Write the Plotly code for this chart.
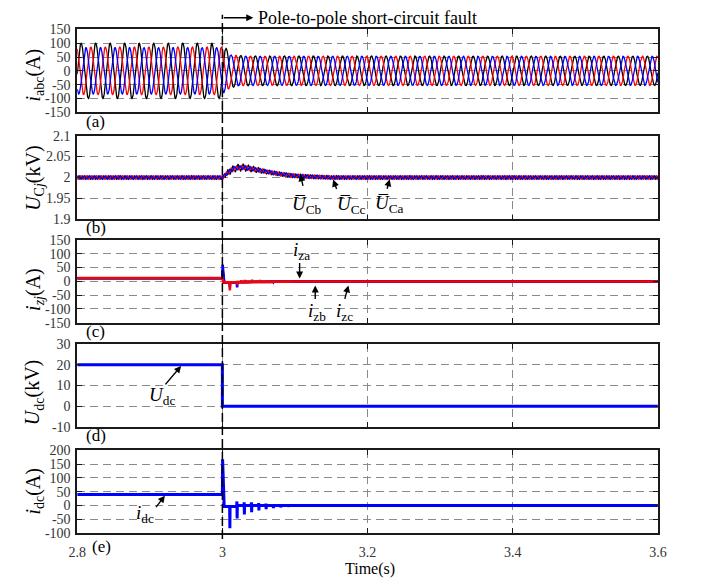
import numpy as np
import plotly.graph_objects as go

FIG_W, FIG_H = 702, 586
FONT = "Liberation Serif, Times New Roman, serif"

# ---------------- time axis ----------------
t_start, t_end, t_fault = 2.8, 3.6, 3.0
x_ticks = [2.8, 3.0, 3.2, 3.4, 3.6]
x_tick_text = ["2.8", "3", "3.2", "3.4", "3.6"]

# ---------------- (a) AC phase currents (A) ----------------
f_grid = 50.0            # Hz
peak_time_a = 2.8054     # first positive peak of phase a (s)
iabc_env_t = [2.8, 3.0, 3.004, 3.012, 3.03, 3.6]
ia_env = [100, 100, 85, 60, 54, 53]
ib_env = [84, 84, 74, 57, 53, 53]
ic_env = [86, 86, 76, 58, 53, 53]

# ---------------- (b) sub-module capacitor voltages (kV) ----------------
f_ripple = 140.0
uc_mean_t = [2.8, 3.0, 3.005, 3.012, 3.02, 3.03, 3.045, 3.06, 3.08, 3.10, 3.12, 3.15, 3.6]
uc_mean = [2.0, 2.0, 2.008, 2.018, 2.023, 2.024, 2.019, 2.014, 2.008, 2.004, 2.002, 2.0, 2.0]
uc_rip_t = [2.8, 3.0, 3.01, 3.03, 3.06, 3.10, 3.15, 3.6]
uc_rip_a = [0.0042, 0.0042, 0.008, 0.008, 0.005, 0.0045, 0.0042, 0.0042]
uc_rip_bc = [0.0045, 0.0045, 0.005, 0.005, 0.0045, 0.0045, 0.0045, 0.0045]

# ---------------- (c) circulating currents (A) ----------------
iza_base_t = [2.8, 3.0, 3.0003, 3.0025, 3.03, 3.1, 3.6]
iza_base = [11, 11, 40, -4, -2, -1, -1]
iza_spikes = [[(3.0103, -14)], [(3.0203, -10)], [(3.0303, -5)]]

izb_base_t = [2.8, 3.0, 3.0003, 3.0025, 3.03, 3.1, 3.6]
izb_base = [11, 11, 60, -5, -3, -1, -1]
izb_spikes = [[(3.0103, -22)], [(3.0203, -22)], [(3.0303, -7)], [(3.0403, -6)],
              [(3.0503, -5)], [(3.0603, -4)], [(3.0703, -3)]]

izc_base_t = [2.8, 3.0, 3.0015, 3.03, 3.1, 3.6]
izc_base = [12, 12, -4, -3, -1, -1]
izc_spikes = [[(3.0103, -33)], [(3.0203, -14)], [(3.026, 4)], [(3.031, 5)],
              [(3.036, -3)], [(3.041, 6)], [(3.047, 3)], [(3.052, 5)],
              [(3.058, -2)], [(3.063, 4)], [(3.070, 3)], [(3.076, -2)],
              [(3.082, 3)], [(3.090, 2)], [(3.100, 2)]]

# ---------------- (d) DC voltage (kV) ----------------
udc_t = [2.8, 3.0, 3.0, 3.6]
udc = [20, 20, 0, 0]

# ---------------- (e) DC current (A) ----------------
idc_base_t = [2.8, 3.0, 3.0003, 3.0025, 3.018, 3.022, 3.6]
idc_base = [40, 40, 168, -3, -3, 0, 0]
idc_spikes = [[(3.0103, -82)],
              [(3.0200, 15), (3.0203, -47)],
              [(3.0300, 12), (3.0303, -32)],
              [(3.0400, 12), (3.0403, -24)],
              [(3.0500, 9), (3.0503, -18)],
              [(3.0600, 7), (3.0603, -13)],
              [(3.0700, 5), (3.0703, -9)],
              [(3.0800, 4), (3.0803, -7)],
              [(3.0900, 3), (3.0903, -5)],
              [(3.1000, 3), (3.1003, -4)],
              [(3.1100, 2), (3.1103, -3)],
              [(3.1200, 2), (3.1203, -3)]]

BLACK, RED, BLUE = "#000000", "#ff0000", "#0000ff"
GRID = "#8a8a8a"


def with_spikes(base_t, base_v, groups, w=0.0003):
    """Baseline polyline with narrow spike groups inserted."""
    pts = list(zip(base_t, base_v))
    for g in groups:
        t0, t1 = g[0][0] - w, g[-1][0] + w
        pts.append((t0, float(np.interp(t0, base_t, base_v))))
        pts.extend(g)
        pts.append((t1, float(np.interp(t1, base_t, base_v))))
    pts.sort(key=lambda p: p[0])
    return [p[0] for p in pts], [p[1] for p in pts]


t = np.linspace(t_start, t_end, 8001)
wt = 2 * np.pi * f_grid * (t - peak_time_a)
ia = np.interp(t, iabc_env_t, ia_env) * np.cos(wt)
ib = np.interp(t, iabc_env_t, ib_env) * np.cos(wt - 2 * np.pi / 3)
ic = np.interp(t, iabc_env_t, ic_env) * np.cos(wt - 4 * np.pi / 3)

wr = 2 * np.pi * f_ripple * (t - t_start)
um = np.interp(t, uc_mean_t, uc_mean)
uca = um + np.interp(t, uc_rip_t, uc_rip_a) * np.cos(wr)
ucb = um + np.interp(t, uc_rip_t, uc_rip_bc) * np.cos(wr - 2 * np.pi / 3)
ucc = um + np.interp(t, uc_rip_t, uc_rip_bc) * np.cos(wr + 2 * np.pi / 3)

iza_t, iza = with_spikes(iza_base_t, iza_base, iza_spikes)
izb_t, izb = with_spikes(izb_base_t, izb_base, izb_spikes)
izc_t, izc = with_spikes(izc_base_t, izc_base, izc_spikes)
idc_t, idc = with_spikes(idc_base_t, idc_base, idc_spikes)

fig = go.Figure()


def line(x, y, color, width, axis):
    fig.add_trace(go.Scatter(x=x, y=y, mode="lines", showlegend=False,
                             line=dict(color=color, width=width),
                             xaxis="x" + axis, yaxis="y" + axis,
                             hoverinfo="skip"))


line(t, ia, BLACK, 1.3, "1")
line(t, ic, RED, 1.3, "1")
line(t, ib, BLUE, 1.3, "1")
line(t, uca, BLACK, 1.3, "2")
line(t, ucc, RED, 1.3, "2")
line(t, ucb, BLUE, 1.3, "2")
line(iza_t, iza, BLACK, 2.6, "3")
line(izb_t, izb, BLUE, 2.6, "3")
line(izc_t, izc, RED, 2.6, "3")
line(udc_t, udc, BLUE, 3, "4")
line(idc_t, idc, BLUE, 3, "5")

# panel geometry in pixels (top, bottom)
X_L, X_R = 70, 666
panels = [(23, 108), (132, 218), (239, 324), (346, 431), (455, 540)]
y_ranges = [(-150, 150), (1.9, 2.1), (-150, 150), (-10, 30), (-100, 200)]
y_ticks = [[-150, -100, -50, 0, 50, 100, 150],
           [1.9, 1.95, 2.0, 2.05, 2.1],
           [-150, -100, -50, 0, 50, 100, 150],
           [-10, 0, 10, 20, 30],
           [-100, -50, 0, 50, 100, 150, 200]]
y_tick_text = [[str(v) for v in y_ticks[0]],
               ["1.9", "1.95", "2", "2.05", "2.1"],
               [str(v) for v in y_ticks[2]],
               [str(v) for v in y_ticks[3]],
               [str(v) for v in y_ticks[4]]]

tick_font = dict(family=FONT, size=14, color="#333333")
layout = {}
for i, ((top, bot), yr, yt, ytt) in enumerate(zip(panels, y_ranges, y_ticks, y_tick_text), start=1):
    common = dict(showline=True, linecolor="#1a1a1a", linewidth=1.6, mirror="ticks",
                  ticks="inside", ticklen=5, tickwidth=1.2, tickcolor="#1a1a1a",
                  showgrid=True, gridcolor=GRID, gridwidth=1, griddash="8px,5px",
                  zeroline=False, tickfont=tick_font)
    layout["xaxis%d" % i] = dict(common, domain=[X_L / FIG_W, X_R / FIG_W],
                                 anchor="y%d" % i, range=[t_start, t_end],
                                 tickvals=x_ticks, ticktext=x_tick_text,
                                 showticklabels=(i == 5), ticklabelstandoff=5)
    layout["yaxis%d" % i] = dict(common, domain=[1 - bot / FIG_H, 1 - top / FIG_H],
                                 anchor="x%d" % i, range=list(yr),
                                 tickvals=yt, ticktext=ytt, ticklabelstandoff=2)

fig.update_layout(**layout)


def P(xp, yp):
    return xp / FIG_W, 1 - yp / FIG_H


ann = []


def text_at(xp, yp, txt, size=19, angle=0, xanchor="center", color="#000000"):
    x, y = P(xp, yp)
    ann.append(dict(x=x, y=y, xref="paper", yref="paper", text=txt, showarrow=False,
                    textangle=angle, xanchor=xanchor, yanchor="middle",
                    font=dict(family=FONT, size=size, color=color)))


def arrow_to(axis, x, y, dx, dy):
    ann.append(dict(x=x, y=y, xref="x" + axis, yref="y" + axis, text="",
                    showarrow=True, ax=dx, ay=dy, axref="pixel", ayref="pixel",
                    arrowhead=2, arrowsize=1, arrowwidth=1.4, arrowcolor="#000000"))


# axis titles
text_at(26, 70, "<i>i</i><sub>abc</sub>(A)", size=20, angle=-90)
text_at(26, 176, "<i>U</i><sub>C<i>j</i></sub>(kV)", size=20, angle=-90)
text_at(26, 290, "<i>i</i><sub><i>zj</i></sub>(A)", size=20, angle=-90)
text_at(26, 396, "<i>U</i><sub>dc</sub>(kV)", size=20, angle=-90)
text_at(26, 497, "<i>i</i><sub>dc</sub>(A)", size=20, angle=-90)

# panel tags
for lab, yp in zip(["(a)", "(b)", "(c)", "(d)"], [117, 226, 333, 440]):
    text_at(89, yp, lab, size=17)
text_at(95, 554, "(e)", size=17)
text_at(371, 577, "Time(s)", size=16)

# fault marker
text_at(253, 11, "Pole-to-pole short-circuit fault", size=18, xanchor="left")
ann.append(dict(x=3.0425, y=1 - 11 / FIG_H, xref="x1", yref="paper", text="",
                showarrow=True, ax=t_fault, ay=0, axref="x1", ayref="pixel",
                arrowhead=2, arrowsize=1, arrowwidth=1.4, arrowcolor="#000000"))

# (b) labels
arrow_to("2", 3.1074, 2.0077, 3, 13)
text_at(306, 203, "<i>U\u0305</i><sub>Cb</sub>")
arrow_to("2", 3.1526, 1.995, 4, 11)
text_at(351, 203, "<i>U\u0305</i><sub>Cc</sub>")
arrow_to("2", 3.2305, 1.996, -3, 11)
text_at(390, 202, "<i>U\u0305</i><sub>Ca</sub>")

# (c) labels
arrow_to("3", 3.1064, 10, 0, -17)
text_at(300, 250, "<i>i</i><sub>za</sub>")
arrow_to("3", 3.1279, -15, 0, 15)
text_at(316, 313, "<i>i</i><sub>zb</sub>")
arrow_to("3", 3.1736, -15, -4, 15)
text_at(344, 313, "<i>i</i><sub>zc</sub>")

# (d), (e) labels
arrow_to("4", 2.9432, 19.5, -17, 20)
text_at(157, 399, "<i>U</i><sub>dc</sub>")
arrow_to("5", 2.9208, 36, -10, 13)
text_at(140, 520, "<i>i</i><sub>dc</sub>")

fig.update_layout(annotations=ann)

fig.add_shape(type="line", xref="x1", yref="paper", x0=t_fault, x1=t_fault,
              y0=1 - 546 / FIG_H, y1=1 - 8 / FIG_H, layer="above",
              line=dict(color="#000000", width=1.5, dash="9px,4px"))

fig.update_layout(width=FIG_W, height=FIG_H, autosize=False,
                  margin=dict(l=0, r=0, t=0, b=0),
                  paper_bgcolor="white", plot_bgcolor="white",
                  font=dict(family=FONT, color="#000000"))

fig.write_html("out.html")
